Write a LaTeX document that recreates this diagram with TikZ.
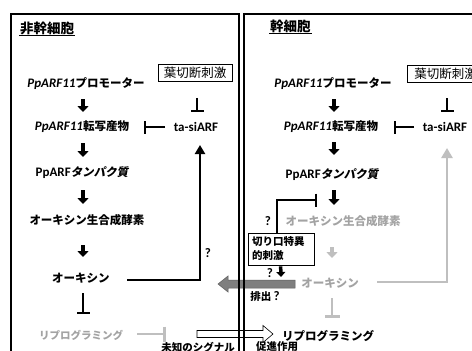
\documentclass[tikz,border=0pt]{standalone}
\usepackage{fontspec}
\setmainfont{Carlito}
\newfontfamily\jp{Noto Sans CJK JP}
\newfontfamily\jpsl{Noto Sans CJK JP}[FakeSlant=0.18]
\usetikzlibrary{arrows.meta,calc}
\definecolor{lg}{HTML}{BFBFBF}
\definecolor{tg}{HTML}{A3A3A3}
\definecolor{dg}{HTML}{7F7F7F}
\newcommand\lat[1]{{\rmfamily\fontsize{13}{14}\selectfont\itshape #1}}
\newcommand\latu[1]{{\rmfamily\fontsize{13}{14}\selectfont #1}}
\tikzset{
  lbl/.style={inner sep=0.5pt, font=\fontsize{11.5}{13}\selectfont\bfseries\jp},
  sml/.style={inner sep=0.5pt, font=\fontsize{10.5}{12}\selectfont\bfseries\jp},
  ttl/.style={inner sep=1pt, anchor=west, font=\fontsize{13.5}{15}\selectfont\bfseries\jp},
  stimbox/.style={draw, line width=0.7pt, inner sep=0pt, minimum width=74pt, minimum height=17pt, font=\fontsize{12.5}{14}\selectfont\jp},
  blk/.style={line width=4.5pt, -{Triangle[width=11pt,length=6pt]}},
  blks/.style={line width=3.5pt, -{Triangle[width=9pt,length=5pt]}},
  gblk/.style={blk, lg},
  inh/.style={line width=2pt, -{Bar[width=13pt,line width=2pt]}},
  ginh/.style={line width=2.6pt, lg, -{Bar[width=15pt,line width=2.6pt]}},
  thk/.style={line width=2.2pt, -{Triangle[width=10pt,length=9pt]}},
  gthk/.style={line width=2.6pt, lg, -{Triangle[width=11pt,length=10pt]}},
  border/.style={line width=1.4pt},
}
\begin{document}
\begin{tikzpicture}[x=1pt,y=-1pt]
\useasboundingbox (0,0) rectangle (472,351);
\fill[white] (0,0) rectangle (472,351);

% ---------- left panel nodes ----------
\node[ttl] (t1) at (19,28) {非幹細胞};
\draw[line width=0.8pt] (t1.south west) -- (t1.south east);
\node[stimbox] (stimL) at (195,73) {葉切断刺激};
\node[lbl] (promL) at (86,84) {\lat{PpARF11}プロモーター};
\node[lbl] (transL) at (82,127) {\lat{PpARF11}転写産物};
\node[lbl] (tasiL) at (196,127) {\latu{ta-siARF}};
\node[lbl] (protL) at (82,173) {\latu{PpARF}{\jpsl タンパク質}};
\node[lbl] (enzL) at (87,220) {オーキシン生合成酵素};
\node[lbl] (auxL) at (81,278) {オーキシン};
\node[sml, text=tg] (reproL) at (81,335) {リプログラミング};
\node[lbl] (qL) at (208,253) {\latu{?}};
\node[sml] (sig) at (198,347) {未知のシグナル};

% ---------- right panel nodes ----------
\node[ttl] (t2) at (269,26) {幹細胞};
\draw[line width=0.8pt] (t2.south west) -- (t2.south east);
\node[stimbox, anchor=west, inner xsep=7pt] (stimR) at (407,73.5) {葉切断刺激};
\node[lbl] (promR) at (333,84) {\lat{PpARF11}プロモーター};
\node[lbl] (transR) at (331,127) {\lat{PpARF11}転写産物};
\node[lbl] (tasiR) at (445,127) {\latu{ta-siARF}};
\node[lbl] (protR) at (332,175) {\latu{PpARF}{\jpsl タンパク質}};
\node[lbl, text=tg] (enzR) at (343,221) {オーキシン生合成酵素};
\node[lbl, text=tg] (auxR) at (330,283) {オーキシン};
\node[lbl] (reproR) at (328,336) {リプログラミング};
\node[draw, line width=0.7pt, inner sep=0pt, minimum width=66pt, minimum height=32pt,
      text width=58pt, align=left, font=\fontsize{10.5}{14}\selectfont\bfseries\jp] (cut) at (281,249) {切り口特異\\的刺激};
\node[lbl] (qR1) at (268,221) {\latu{?}};
\node[lbl] (qR2) at (270,273) {\latu{?}};
\node[sml] (haishutsu) at (265,297) {排出 \latu{?}};
\node[sml] (sokushin) at (277,347) {促進作用};

% ---------- big arrows between panels ----------
\coordinate (ga1) at ($(auxR)+(-35,1)$);
\coordinate (ga2) at ($(auxR)+(-112,1)$);
\filldraw[fill=dg, draw=dg!75!black, line width=0.5pt]
  (ga1) ++(0,-4) -- ++(-67,0) -- ++(0,-4) -- (ga2) -- ++(10,8) -- ++(0,-4) -- ++(67,0) -- cycle;
\coordinate (wa1) at ($(reproL)+(116,-1)$);
\coordinate (wa2) at ($(reproR)+(-55,-2)$);
\filldraw[fill=white, draw=black, line width=0.6pt]
  (wa1) ++(0,-3.5) -- ++(66,0) -- ++(0,-5) -- (wa2) -- ++(-10,8.5) -- ++(0,-5) -- ++(-66,0) -- cycle;

% ---------- panel borders ----------
\draw[border] (11,360) -- (11,14) -- (239,14) -- (239,360);
\draw[border] (244,360) -- (244,14) -- (480,14);

% ---------- left connectors ----------
\draw[blk] ($(promL)+(-3,15)$) -- ($(transL)+(1,-15)$);
\draw[blk] ($(transL)+(1,16)$) -- ($(protL)+(1,-16)$);
\draw[blk] ($(protL)+(1,17)$) -- ($(enzL)+(-4,-16)$);
\draw[blk] ($(enzL)+(-4,25)$) -- ($(auxL)+(2,-21)$);
\draw[inh] ($(auxL)+(2,15)$) -- ($(reproL)+(2,-21)$);
\draw[inh] ($(stimL.south)+(2,16)$) -- ($(tasiL)+(1,-15)$);
\draw[inh] ($(tasiL)+(-31,0)$) -- ($(transL)+(62,0)$);
\draw[thk] ($(auxL)+(46,2)$) -| ($(tasiL)+(4,18)$);
\coordinate (sigend) at ($(reproL)+(85,-1)$);
\draw[ginh] ($(reproL)+(56,-1)$) -- (sigend);

% ---------- right connectors ----------
\draw[blk] ($(promR)+(1,15)$) -- ($(transR)+(3,-15)$);
\draw[inh] ($(stimR.south west)+(40,16)$) -- ($(tasiR)+(2,-15)$);
\draw[inh] ($(tasiR)+(-31,0)$) -- ($(transR)+(63,0)$);
\draw[blk] ($(transR)+(3,15)$) -- ($(protR)+(2,-20)$);
\draw[blk] ($(protR)+(2,15)$) -- ($(enzR)+(-9,-16)$);
\draw[inh] ($(cut.north west)+(29,0)$) |- ($(protR)+(-15,25)$);
\draw[gblk] ($(enzR)+(-11,26)$) -- ($(auxR)+(2,-25)$);
\draw[ginh] ($(auxR)+(2,15)$) -- ($(reproR)+(4,-18)$);
\draw[gthk] ($(auxR)+(47,-1)$) -| ($(tasiR)+(2,21)$);
\draw[blks] ($(cut.south west)+(33,1)$) -- ($(auxR)+(-49,-6)$);
\end{tikzpicture}
\end{document}
